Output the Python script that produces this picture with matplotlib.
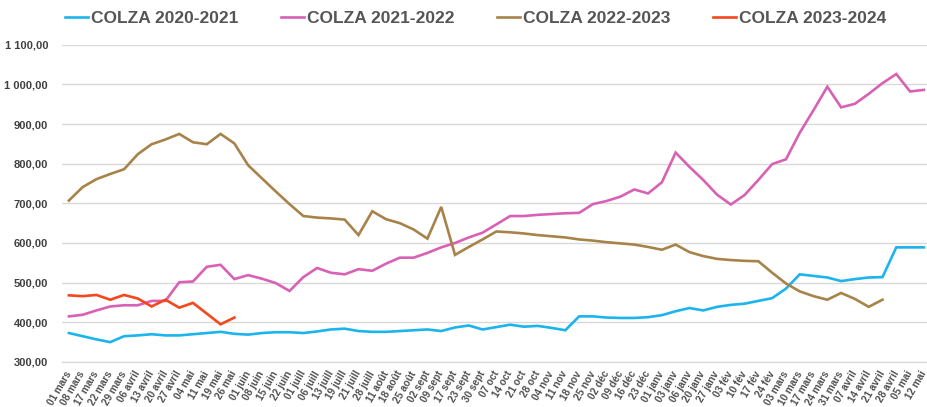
import matplotlib
matplotlib.use("Agg")
import matplotlib.pyplot as plt

dates = ["01 mars", "08 mars", "17 mars", "22 mars", "29 mars", "06 avril", "13 avril",
         "20 avril", "27 avril", "04 mai", "11 mai", "19 mai", "26 mai", "01 juin",
         "08 juin", "15 juin", "22 juin", "01 juill", "06 juill", "13 juill", "19 juill",
         "21 juill", "28 juill", "11 août", "18 août", "25 août", "02 sept", "09 sept",
         "17 sept", "23 sept", "30 sept", "07 oct", "14 oct", "21 oct", "28 oct",
         "04 nov", "11 nov", "18 nov", "25 nov", "02 déc", "09 déc", "16 déc", "23 déc",
         "01 janv", "03 janv", "06 janv", "20 janv", "27 janv", "03 fév", "10 fév",
         "17 fév", "24 fév", "03 mars", "10 mars", "17 mars", "24 mars", "31 mars",
         "07 avril", "14 avril", "21 avril", "28 avril", "05 mai", "12 mai"]

colza_2020_2021 = [373, 365, 357, 350, 365, 367, 370, 367, 367, 370, 373, 376, 371, 369,
                   373, 375, 375, 373, 377, 382, 384, 378, 376, 376, 378, 380, 382, 378,
                   387, 392, 382, 388, 394, 389, 391, 386, 380, 415, 415, 412, 411, 411,
                   413, 418, 428, 436, 430, 439, 444, 447, 454, 461, 485, 521, 517, 513,
                   504, 509, 513, 514, 589, 589, 589]

colza_2021_2022 = [415, 419, 430, 440, 443, 443, 454, 454, 501, 503, 540, 545, 509, 519,
                   510, 499, 479, 514, 537, 525, 521, 534, 530, 548, 563, 563, 575, 589,
                   600, 614, 626, 647, 668, 668, 671, 673, 675, 676, 698, 706, 717, 735,
                   725, 753, 828, 792, 759, 722, 697, 721, 759, 799, 811, 878, 935, 994,
                   942, 951, 976, 1003, 1026, 982, 986]

colza_2022_2023 = [707, 741, 761, 774, 786, 824, 849, 861, 875, 854, 849, 875, 851, 796,
                   763, 730, 698, 668, 664, 662, 659, 620, 680, 660, 650, 634, 611, 691,
                   570, 590, 609, 629, 627, 624, 620, 617, 614, 609, 606, 602, 599, 596,
                   590, 583, 596, 577, 567, 560, 557, 555, 554, 525, 498, 478, 466, 457,
                   474, 459, 439, 457]

colza_2023_2024 = [468, 466, 469, 457, 469, 460, 440, 457, 437, 449, 422, 395, 412]

series = [
    ("COLZA 2020-2021", colza_2020_2021, "#1cb4ec"),
    ("COLZA 2021-2022", colza_2021_2022, "#d861b6"),
    ("COLZA 2022-2023", colza_2022_2023, "#a88349"),
    ("COLZA 2023-2024", colza_2023_2024, "#f5461e"),
]

yticks = [300, 400, 500, 600, 700, 800, 900, 1000, 1100]
ytick_labels = ["300,00", "400,00", "500,00", "600,00", "700,00", "800,00", "900,00",
                "1 000,00", "1 100,00"]

fig = plt.figure(figsize=(9.28, 4.07), dpi=100)
ax = fig.add_axes([0.0668, 0.1106, 0.9332, 0.7796])

for name, vals, col in series:
    ax.plot(range(len(vals)), vals, color=col, lw=1.9, label=name,
            solid_joinstyle="miter", zorder=3)

ax.set_ylim(300, 1100)
ax.set_xlim(-0.5, 62.3)
ax.set_yticks(yticks)
ax.set_yticklabels(ytick_labels, fontsize=8, color="#404040",
                   family=["Liberation Sans", "DejaVu Sans"], fontweight="bold")
ax.set_xticks(range(len(dates)))
ax.set_xticklabels(dates, rotation=60, ha="right", va="center", rotation_mode="anchor",
                   fontsize=7.2, color="#505050",
                   family=["Liberation Sans", "DejaVu Sans"], fontweight="bold")
ax.tick_params(axis="both", length=0)
ax.tick_params(axis="x", pad=7)
ax.tick_params(axis="y", pad=10)
ax.grid(axis="y", color="#d9d9d9", lw=1.0, zorder=0)
ax.grid(axis="x", visible=False)
for s in ["top", "right", "left"]:
    ax.spines[s].set_visible(False)
ax.spines["bottom"].set_color("#d9d9d9")
ax.spines["bottom"].set_linewidth(1.0)

fig.legend(loc="center", bbox_to_anchor=(0.5125, 0.955), ncol=4, frameon=False,
           handlelength=1.3, handletextpad=0.15, columnspacing=2.5,
           prop={"family": ["Liberation Sans", "DejaVu Sans"], "weight": "bold",
                 "size": 12.5},
           labelcolor="#555555")

fig.savefig("out.png", dpi=100)
